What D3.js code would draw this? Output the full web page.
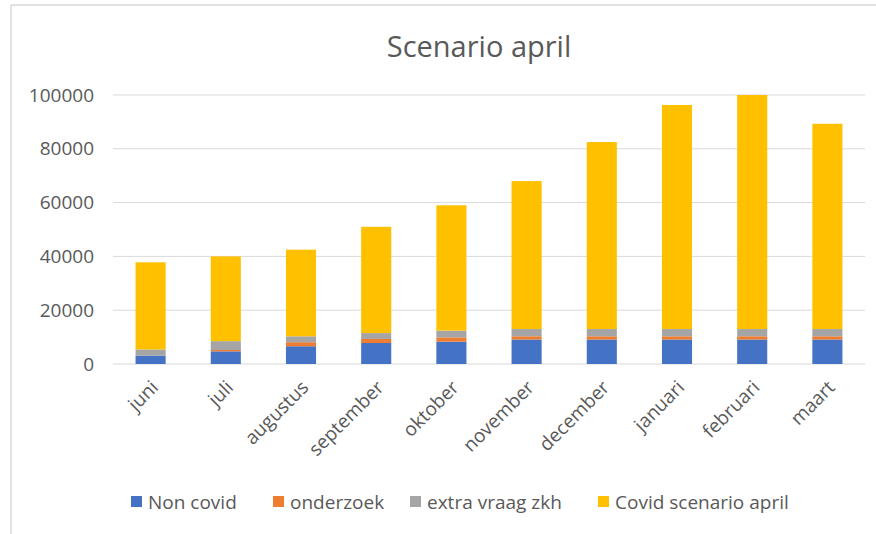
<!DOCTYPE html>
<html><head><meta charset="utf-8">
<script src="https://cdn.jsdelivr.net/npm/d3@7"></script>
<style>body{margin:0;background:#fff;} svg{display:block;font-family:"Open Sans","Noto Sans",sans-serif;}</style>
</head><body><svg id="c" width="876" height="534"></svg>
<script>
const months = ["juni","juli","augustus","september","oktober","november","december","januari","februari","maart"];
const nonCovid = [3100,4700,6600,7800,8300,9100,9100,9100,9100,9100];
const onderzoek = [0,500,1500,1500,1600,1200,1200,1200,1200,1200];
const extraVraag = [2300,3300,2200,2200,2500,2700,2700,2700,2700,2700];
const covidScenario = [32400,31500,32200,39500,46600,55000,69500,83300,87000,76300];
const seriesNames = ["Non covid","onderzoek","extra vraag zkh","Covid scenario april"];
const colors = ["#4472C4","#ED7D31","#A5A5A5","#FFC000"];
const yTicks = [0,20000,40000,60000,80000,100000];

const svg = d3.select("#c");
// frame
svg.append("line").attr("x1",11).attr("x2",876).attr("y1",5).attr("y2",5).attr("stroke","#d9d9d9").attr("stroke-width",1.5);
svg.append("line").attr("x1",11).attr("x2",11).attr("y1",5).attr("y2",534).attr("stroke","#d9d9d9").attr("stroke-width",1.5);

const x = d3.scaleBand().domain(months).range([113,865]).paddingInner(0.6).paddingOuter(0.3);
const y = d3.scaleLinear().domain([0,100000]).range([364,95]);

// gridlines
svg.append("g").selectAll("line").data(yTicks).join("line")
  .attr("x1",113).attr("x2",865).attr("y1",d=>y(d)).attr("y2",d=>y(d))
  .attr("stroke","#d9d9d9").attr("stroke-width",1);

// y labels
svg.append("g").selectAll("text").data(yTicks).join("text")
  .attr("x",94).attr("y",d=>y(d)).attr("dy","0.35em").attr("text-anchor","end")
  .attr("fill","#595959").attr("font-size",19).text(d=>d);

const data = months.map((m,i)=>({month:m,"Non covid":nonCovid[i],"onderzoek":onderzoek[i],"extra vraag zkh":extraVraag[i],"Covid scenario april":covidScenario[i]}));
const stack = d3.stack().keys(seriesNames)(data);

svg.append("g").selectAll("g").data(stack).join("g").attr("fill",(d,i)=>colors[i])
  .selectAll("rect").data(d=>d).join("rect")
  .attr("x",d=>x(d.data.month)).attr("width",x.bandwidth())
  .attr("y",d=>y(d[1])).attr("height",d=>Math.max(0,y(d[0])-y(d[1])));

// x labels
svg.append("g").selectAll("text").data(months).join("text")
  .attr("transform",d=>`translate(${x(d)+x.bandwidth()/2+4},384) rotate(-45)`)
  .attr("text-anchor","end").attr("dy","0.35em")
  .attr("fill","#595959").attr("font-size",19).text(d=>d);

// title
svg.append("text").attr("x",479).attr("y",57).attr("text-anchor","middle")
  .attr("fill","#595959").attr("font-size",29).text("Scenario april");

// legend
const legX = [131,273,410,598];
const leg = svg.append("g").selectAll("g").data(seriesNames).join("g")
  .attr("transform",(d,i)=>`translate(${legX[i]},502)`);
leg.append("rect").attr("x",0).attr("y",-6).attr("width",11).attr("height",11).attr("fill",(d,i)=>colors[i]);
leg.append("text").attr("x",17).attr("y",0).attr("dy","0.35em").attr("fill","#595959").attr("font-size",19).text(d=>d);
</script></body></html>
